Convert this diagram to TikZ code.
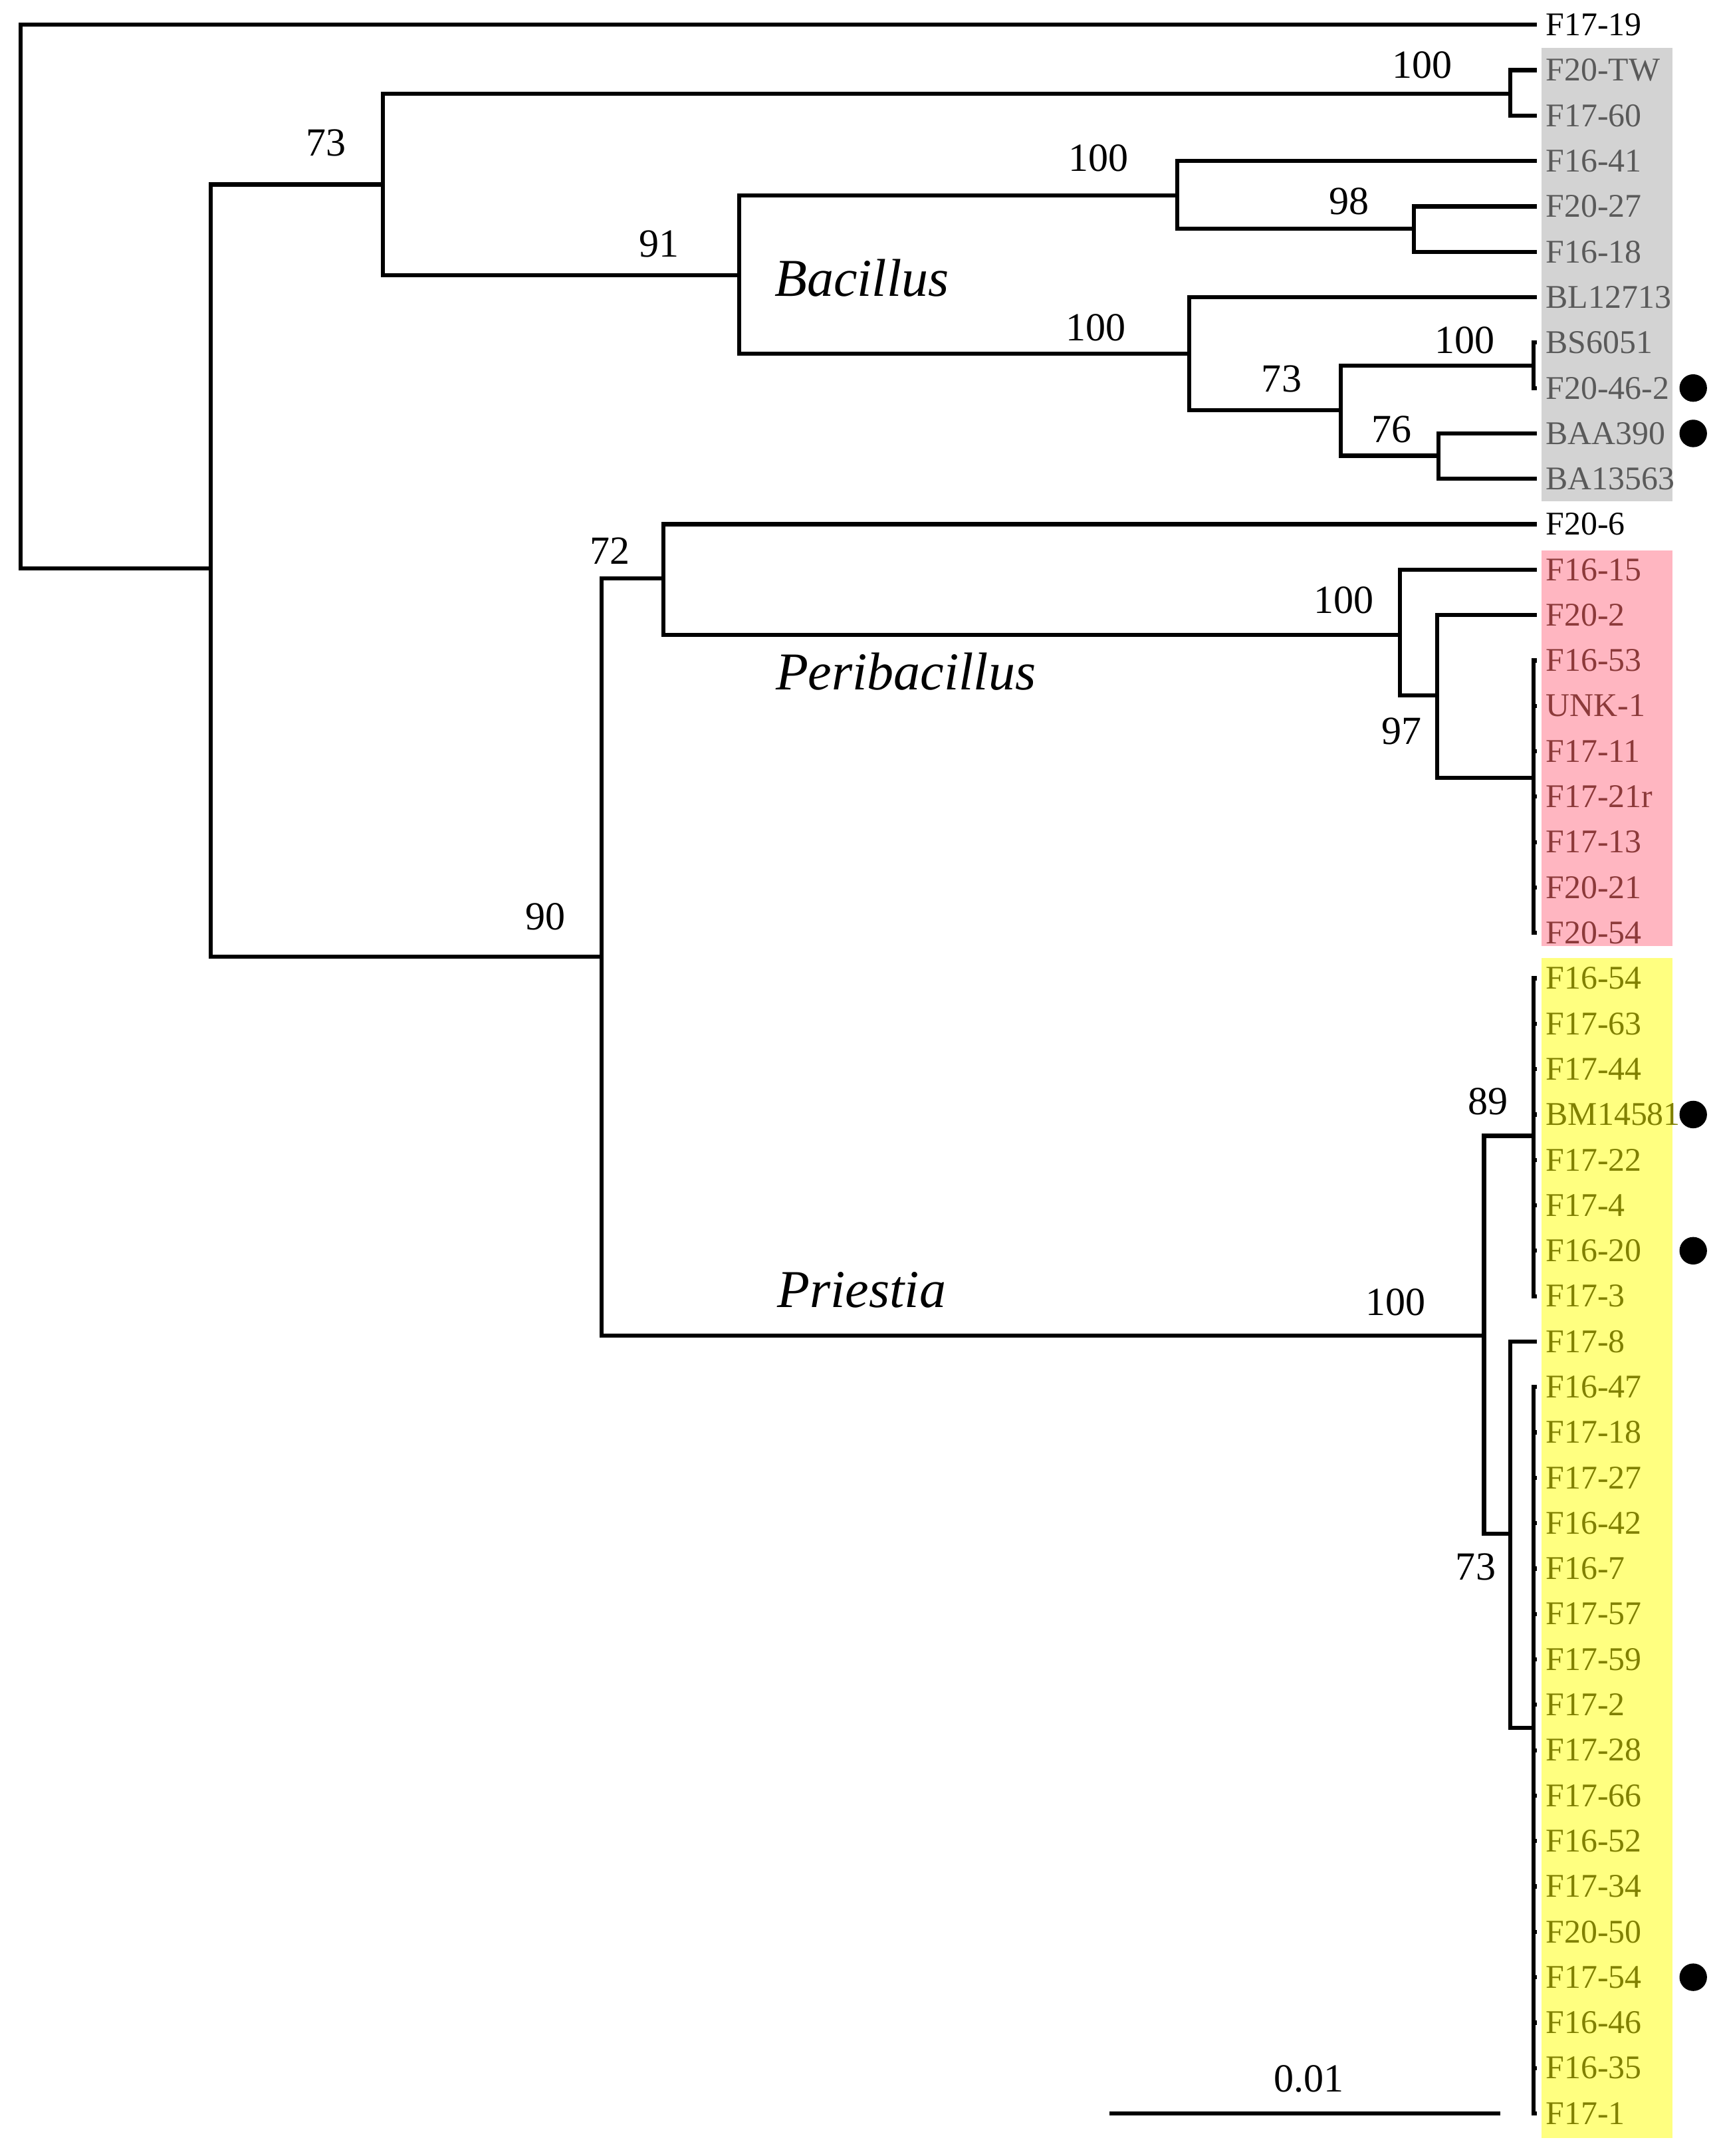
\documentclass[tikz,border=0pt]{standalone}
\usepackage{fontspec}
\setmainfont{Liberation Serif}
\usepackage{xcolor}
\usetikzlibrary{positioning}

\definecolor{bacbox}{HTML}{D3D3D3}
\definecolor{bactext}{HTML}{5A5A5A}
\definecolor{peribox}{HTML}{FFB6C1}
\definecolor{peritext}{HTML}{8C3A3A}
\definecolor{priebox}{HTML}{FFFF80}
\definecolor{prietext}{HTML}{808000}

\begin{document}
\begin{tikzpicture}[x=0.02cm,y=-0.02cm,line width=1.7pt,line cap=rect,
    leaf/.style={anchor=west,inner xsep=0.13cm,inner ysep=0pt,font=\fontsize{13.7}{14}\selectfont},
    boot/.style={inner sep=0pt,font=\fontsize{16.5}{18}\selectfont},
    genus/.style={inner sep=0pt,font=\fontsize{22}{24}\selectfont\itshape},
    blob/.style={circle,fill=black,inner sep=0pt,minimum size=0.4cm}]
            \useasboundingbox (0,0) rectangle (1250,1566);
            \def\tip{1115}
            \def\gap{32.98}

            % clade boxes
            \fill[bacbox] (1120,35) rectangle (1215,364);
            \fill[peribox] (1120,400) rectangle (1215,687);
            \fill[priebox] (1120,696) rectangle (1215,1553);

            % leaves
            \node[leaf] (l1) at (\tip,18) {F17-19};
            \foreach \lab [count=\i from 2] in {F20-TW,F17-60,F16-41,F20-27,F16-18,BL12713,BS6051,F20-46-2,BAA390,BA13563}
                \node[leaf,text=bactext] (l\i) at (\tip,{18+(\i-1)*\gap}) {\lab};
            \node[leaf] (l12) at (\tip,{18+11*\gap}) {F20-6};
            \foreach \lab [count=\i from 13] in {F16-15,F20-2,F16-53,UNK-1,F17-11,F17-21r,F17-13,F20-21,F20-54}
                \node[leaf,text=peritext] (l\i) at (\tip,{18+(\i-1)*\gap}) {\lab};
            \foreach \lab [count=\i from 22] in {F16-54,F17-63,F17-44,BM14581,F17-22,F17-4,F16-20,F17-3,F17-8,F16-47,F17-18,F17-27,F16-42,F16-7,F17-57,F17-59,F17-2,F17-28,F17-66,F16-52,F17-34,F20-50,F17-54,F16-46,F16-35,F17-1}
                \node[leaf,text=prietext] (l\i) at (\tip,{18+(\i-1)*\gap}) {\lab};

            % marked strains
            \foreach \i in {9,10,25,28,44}
                \node[blob] (m\i) at (1230,{18+(\i-1)*\gap}) {};

            % internal nodes
            \coordinate (root) at (15,413);
            \coordinate (nA) at (153,413);
            \coordinate (nB) at (278,134);
            \coordinate (nC) at (1097,68);
            \coordinate (nD) at (537,200);
            \coordinate (nE) at (855,142);
            \coordinate (nF) at (1027,166);
            \coordinate (nG) at (864,257);
            \coordinate (nH) at (974,298);
            \coordinate (nI) at (1114,265.5);
            \coordinate (nJ) at (1045,331);
            \coordinate (nK) at (437,695);
            \coordinate (nL) at (482,420);
            \coordinate (nM) at (1017,461);
            \coordinate (nN) at (1044,505);
            \coordinate (nO) at (1114,565);
            \coordinate (nP) at (1078,970);
            \coordinate (nQ) at (1114,825);
            \coordinate (nR) at (1097,1114);
            \coordinate (nS) at (1114,1255);

            % branches
            \draw (root) |- (l1.west);
            \draw (root) -- (nA);
            \draw (nA) |- (nB);
            \draw (nA) |- (nK);
            \draw (nB) |- (nC);
            \draw (nB) |- (nD);
            \draw (nC) |- (l2.west);
            \draw (nC) |- (l3.west);
            \draw (nD) |- (nE);
            \draw (nD) |- (nG);
            \draw (nE) |- (l4.west);
            \draw (nE) |- (nF);
            \draw (nF) |- (l5.west);
            \draw (nF) |- (l6.west);
            \draw (nG) |- (l7.west);
            \draw (nG) |- (nH);
            \draw (nH) |- (nI);
            \draw (nH) |- (nJ);
            \draw (nI) |- (l8.west);
            \draw (nI) |- (l9.west);
            \draw (nJ) |- (l10.west);
            \draw (nJ) |- (l11.west);
            \draw (nK) |- (nL);
            \draw (nK) |- (nP);
            \draw (nL) |- (l12.west);
            \draw (nL) |- (nM);
            \draw (nM) |- (l13.west);
            \draw (nM) |- (nN);
            \draw (nN) |- (l14.west);
            \draw (nN) |- (nO);
            \foreach \i in {15,...,21}
                \draw (nO) |- (l\i.west);
            \draw (nP) |- (nQ);
            \draw (nP) |- (nR);
            \foreach \i in {22,...,29}
                \draw (nQ) |- (l\i.west);
            \draw (nR) |- (l30.west);
            \draw (nR) |- (nS);
            \foreach \i in {31,...,47}
                \draw (nS) |- (l\i.west);

            % bootstrap values
            \node[boot] (bB) at (237,104) {73};
            \node[boot] (bC) at (1033,47) {100};
            \node[boot] (bD) at (479,177) {91};
            \node[boot] (bE) at (798,115) {100};
            \node[boot] (bF) at (980,146) {98};
            \node[boot] (bG) at (796,238) {100};
            \node[boot] (bH) at (931,275) {73};
            \node[boot] (bI) at (1064,247) {100};
            \node[boot] (bJ) at (1011,312) {76};
            \node[boot] (bK) at (396,666) {90};
            \node[boot] (bL) at (443,400) {72};
            \node[boot] (bM) at (976,436) {100};
            \node[boot] (bN) at (1018,531) {97};
            \node[boot] (bP) at (1014,946) {100};
            \node[boot] (bQ) at (1081,800) {89};
            \node[boot] (bR) at (1072,1138) {73};

            % genus names
            \node[genus] (gBac) at (626,202) {Bacillus};
            \node[genus] (gPeri) at (658,488) {Peribacillus};
            \node[genus] (gPrie) at (626,937) {Priestia};

            % scale bar
            \coordinate (sbL) at (806,1535);
            \coordinate (sbR) at (1090,1535);
            \draw[line cap=butt] (sbL) -- (sbR);
            \node[boot] (sbT) at (951,1510) {0.01};
        \end{tikzpicture}
\end{document}
